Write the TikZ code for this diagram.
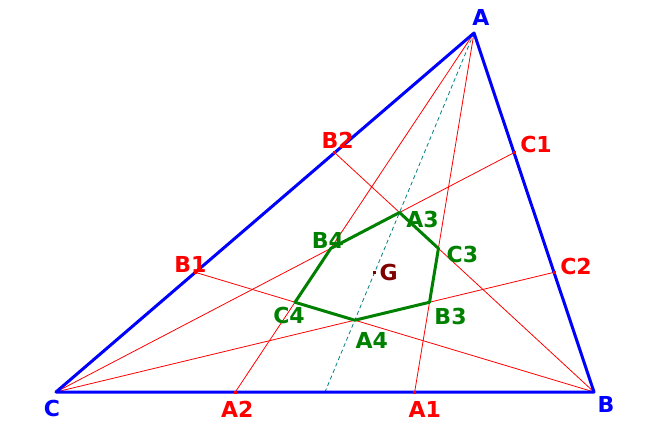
\documentclass[tikz,border=0pt]{standalone}
\usepackage{fontspec}
\setmainfont{DejaVu Sans}
\usetikzlibrary{calc, positioning}
\definecolor{sideblue}{RGB}{0,0,255}
\definecolor{cevred}{RGB}{255,0,0}
\definecolor{hexgreen}{RGB}{0,128,0}
\definecolor{medteal}{RGB}{0,128,128}
\definecolor{gred}{RGB}{128,0,0}
\tikzset{
    side/.style = {sideblue, line width=3pt, line join=round},
    cevian/.style = {cevred, line width=0.8pt},
    median/.style = {medteal, line width=0.8pt, dash pattern=on 4pt off 3pt},
    hexline/.style = {hexgreen, line width=3pt, line join=round},
    labelfont/.style = {inner sep=0pt, font=\fontsize{22}{22}\selectfont\bfseries},
    vertexlabel/.style = {labelfont, sideblue},
    pointlabel/.style = {labelfont, cevred},
    hexlabel/.style = {labelfont, hexgreen},
    dotnode/.style = {fill=cevred, rectangle, minimum size=3pt, inner sep=0pt}
}
\begin{document}
\begin{tikzpicture}[x=1pt, y=-1pt]
    \useasboundingbox (0,0) rectangle (656,436);

    % vertices
    \coordinate (A) at (474,33);
    \coordinate (B) at (594,392);
    \coordinate (C) at (56,392);

    % trisection points
    \coordinate (A1) at ($(B)!1/3!(C)$);
    \coordinate (A2) at ($(B)!2/3!(C)$);
    \coordinate (B1) at ($(C)!1/3!(A)$);
    \coordinate (B2) at ($(C)!2/3!(A)$);
    \coordinate (C1) at ($(A)!1/3!(B)$);
    \coordinate (C2) at ($(A)!2/3!(B)$);
    \coordinate (M) at ($(B)!0.5!(C)$);
    \coordinate (G) at ($(A)!2/3!(M)$);

    % inner hexagon
    \coordinate (A3) at (intersection of B--B2 and C--C1);
    \coordinate (C3) at (intersection of A--A1 and B--B2);
    \coordinate (B3) at (intersection of A--A1 and C--C2);
    \coordinate (A4) at (intersection of B--B1 and C--C2);
    \coordinate (C4) at (intersection of A--A2 and B--B1);
    \coordinate (B4) at (intersection of A--A2 and C--C1);

    \draw [cevian] (A) -- (A1);
    \draw [cevian] (A) -- (A2);
    \draw [cevian] (B) -- (B1);
    \draw [cevian] (B) -- (B2);
    \draw [cevian] (C) -- (C1);
    \draw [cevian] (C) -- (C2);
    \draw [median] (A) -- (M);

    \draw [side] (A) -- (B) -- (C) -- cycle;
    \draw [hexline] (A3) -- (C3) -- (B3) -- (A4) -- (C4) -- (B4) -- cycle;

    \foreach \p in {A1, A2, B1, B2, C1, C2}
        \node [dotnode] at (\p) {};
    \node [name=gdot, dotnode, fill=gred, minimum size=2.5pt] at (G) {};

    \node [name=lA, vertexlabel] at ($(A)+(7,-16)$) {A};
    \node [name=lB, vertexlabel] at ($(B)+(12,12)$) {B};
    \node [name=lC, vertexlabel] at ($(C)+(-4,16)$) {C};

    \node [name=lA1, pointlabel] at ($(A1)+(10,17)$) {A1};
    \node [name=lA2, pointlabel] at ($(A2)+(2,17)$) {A2};
    \node [name=lB1, pointlabel] at ($(B1)+(-5,-8)$) {B1};
    \node [name=lB2, pointlabel] at ($(B2)+(3,-12)$) {B2};
    \node [name=lC1, pointlabel] at ($(C1)+(22,-8)$) {C1};
    \node [name=lC2, pointlabel] at ($(C2)+(22,-6)$) {C2};

    \node [name=lA3, hexlabel] at ($(A3)+(23,7)$) {A3};
    \node [name=lC3, hexlabel] at ($(C3)+(24,6)$) {C3};
    \node [name=lB3, hexlabel] at ($(B3)+(21,14)$) {B3};
    \node [name=lA4, hexlabel] at ($(A4)+(17,20)$) {A4};
    \node [name=lC4, hexlabel] at ($(C4)+(-6,13)$) {C4};
    \node [name=lB4, hexlabel] at ($(B4)+(-3,-8)$) {B4};
    \node [name=lG, labelfont, gred] at ($(G)+(14,0)$) {G};
\end{tikzpicture}
\end{document}
